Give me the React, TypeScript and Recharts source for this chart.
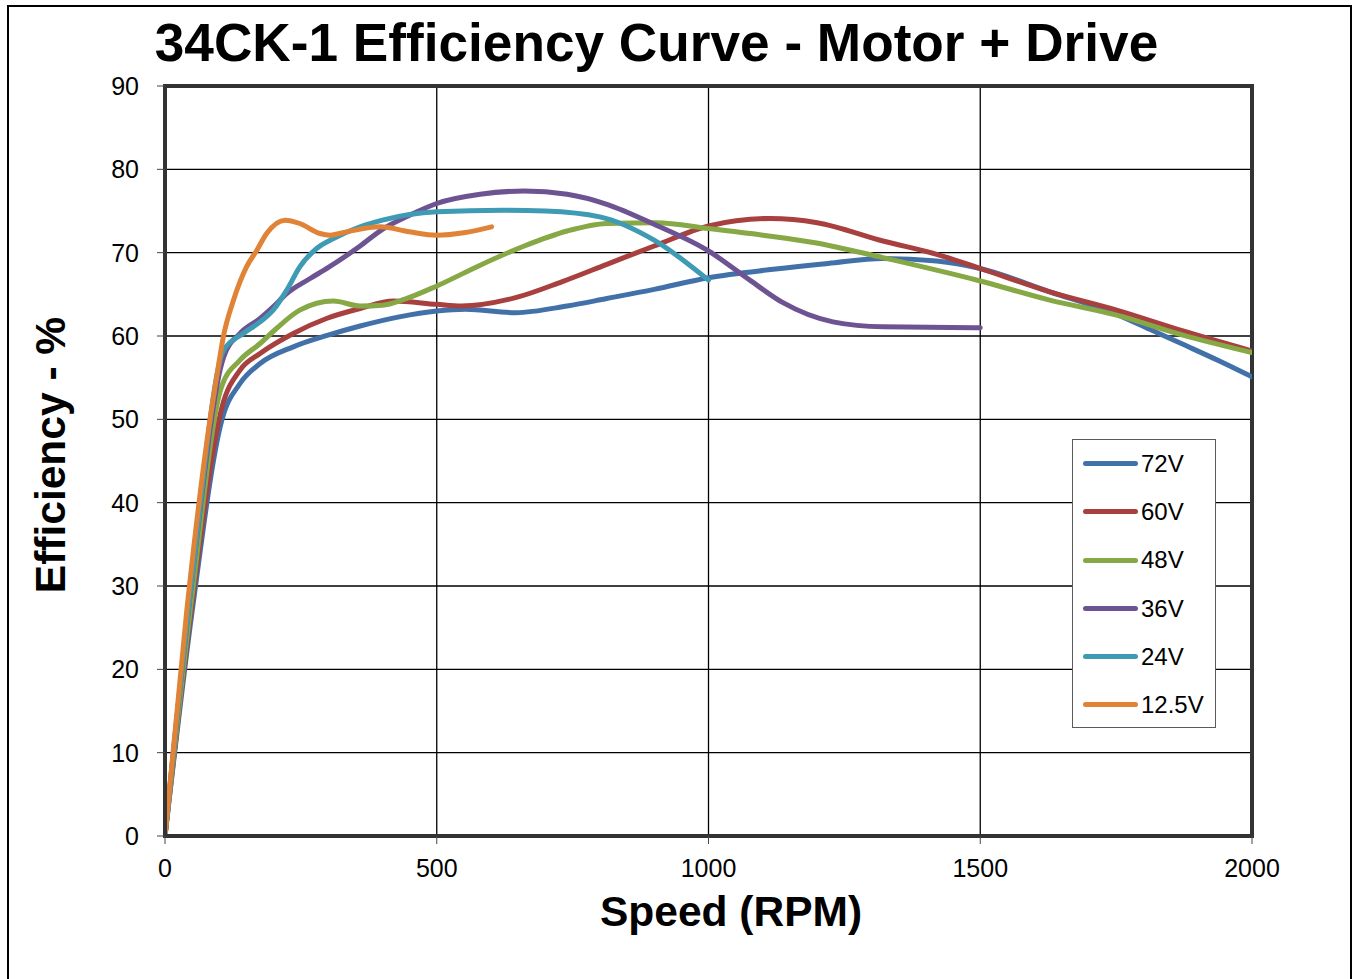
import React from 'react';
import { LineChart, Line, XAxis, YAxis, CartesianGrid, ReferenceArea } from 'recharts';

const FONT = '"Liberation Sans", Arial, Helvetica, sans-serif';

const xTicks = [0, 500, 1000, 1500, 2000];
const yTicks = [0, 10, 20, 30, 40, 50, 60, 70, 80, 90];

const s72V = [
  { rpm: 0, eff: 0 }, { rpm: 50, eff: 27 }, { rpm: 105, eff: 50 }, { rpm: 138, eff: 54.3 },
  { rpm: 175, eff: 56.7 }, { rpm: 236, eff: 58.7 }, { rpm: 300, eff: 60.1 }, { rpm: 359, eff: 61.2 },
  { rpm: 431, eff: 62.3 }, { rpm: 500, eff: 63.0 }, { rpm: 553, eff: 63.2 }, { rpm: 645, eff: 62.8 },
  { rpm: 740, eff: 63.6 }, { rpm: 813, eff: 64.5 }, { rpm: 900, eff: 65.6 }, { rpm: 1000, eff: 67.0 },
  { rpm: 1119, eff: 68.0 }, { rpm: 1220, eff: 68.7 }, { rpm: 1321, eff: 69.3 }, { rpm: 1420, eff: 69.0 },
  { rpm: 1500, eff: 68.1 }, { rpm: 1628, eff: 65.3 }, { rpm: 1751, eff: 62.6 }, { rpm: 1812, eff: 60.8 },
  { rpm: 1873, eff: 59.0 }, { rpm: 1940, eff: 57.0 }, { rpm: 2000, eff: 55.1 },
];

const s60V = [
  { rpm: 0, eff: 0 }, { rpm: 50, eff: 28 }, { rpm: 105, eff: 51.5 }, { rpm: 138, eff: 55.9 },
  { rpm: 175, eff: 57.9 }, { rpm: 236, eff: 60.3 }, { rpm: 297, eff: 62.1 }, { rpm: 359, eff: 63.3 },
  { rpm: 420, eff: 64.2 }, { rpm: 500, eff: 63.8 }, { rpm: 545, eff: 63.6 }, { rpm: 645, eff: 64.6 },
  { rpm: 730, eff: 66.5 }, { rpm: 813, eff: 68.6 }, { rpm: 900, eff: 70.8 }, { rpm: 1000, eff: 73.2 },
  { rpm: 1113, eff: 74.1 }, { rpm: 1200, eff: 73.6 }, { rpm: 1321, eff: 71.4 }, { rpm: 1420, eff: 69.8 },
  { rpm: 1500, eff: 68.1 }, { rpm: 1628, eff: 65.3 }, { rpm: 1751, eff: 63.1 }, { rpm: 1873, eff: 60.6 },
  { rpm: 2000, eff: 58.2 },
];

const s48V = [
  { rpm: 0, eff: 0 }, { rpm: 50, eff: 29 }, { rpm: 104, eff: 53.9 }, { rpm: 138, eff: 57.1 },
  { rpm: 175, eff: 59.1 }, { rpm: 205, eff: 60.9 }, { rpm: 248, eff: 63.1 }, { rpm: 310, eff: 64.2 },
  { rpm: 359, eff: 63.6 }, { rpm: 400, eff: 63.7 }, { rpm: 440, eff: 64.4 }, { rpm: 500, eff: 66.0 },
  { rpm: 580, eff: 68.5 }, { rpm: 661, eff: 70.8 }, { rpm: 740, eff: 72.6 }, { rpm: 813, eff: 73.5 },
  { rpm: 905, eff: 73.6 }, { rpm: 1000, eff: 72.9 }, { rpm: 1100, eff: 72.1 }, { rpm: 1196, eff: 71.2 },
  { rpm: 1321, eff: 69.4 }, { rpm: 1500, eff: 66.6 }, { rpm: 1628, eff: 64.3 }, { rpm: 1751, eff: 62.5 },
  { rpm: 1873, eff: 60.1 }, { rpm: 2000, eff: 58.0 },
];

const s36V = [
  { rpm: 0, eff: 0 }, { rpm: 50, eff: 31 }, { rpm: 108, eff: 57.5 }, { rpm: 138, eff: 60.3 },
  { rpm: 175, eff: 62.1 }, { rpm: 199, eff: 63.5 }, { rpm: 224, eff: 65.1 }, { rpm: 267, eff: 66.9 },
  { rpm: 300, eff: 68.2 }, { rpm: 359, eff: 70.8 }, { rpm: 400, eff: 72.8 }, { rpm: 450, eff: 74.5 },
  { rpm: 500, eff: 75.9 }, { rpm: 580, eff: 77.0 }, { rpm: 661, eff: 77.4 }, { rpm: 740, eff: 77.0 },
  { rpm: 813, eff: 75.8 }, { rpm: 900, eff: 73.4 }, { rpm: 1000, eff: 70.2 }, { rpm: 1076, eff: 66.7 },
  { rpm: 1137, eff: 64.0 }, { rpm: 1229, eff: 61.7 }, { rpm: 1321, eff: 61.1 }, { rpm: 1500, eff: 61.0 },
];

const s24V = [
  { rpm: 0, eff: 0 }, { rpm: 50, eff: 31 }, { rpm: 108, eff: 58.3 }, { rpm: 144, eff: 60.3 },
  { rpm: 175, eff: 61.7 }, { rpm: 199, eff: 63.1 }, { rpm: 224, eff: 65.5 }, { rpm: 248, eff: 68.3 },
  { rpm: 279, eff: 70.5 }, { rpm: 310, eff: 71.7 }, { rpm: 359, eff: 73.1 }, { rpm: 400, eff: 73.9 },
  { rpm: 500, eff: 74.9 }, { rpm: 622, eff: 75.1 }, { rpm: 700, eff: 75.0 }, { rpm: 800, eff: 74.3 },
  { rpm: 900, eff: 71.5 }, { rpm: 1000, eff: 66.7 },
];

const s125V = [
  { rpm: 0, eff: 0 }, { rpm: 40, eff: 27 }, { rpm: 80, eff: 48.7 }, { rpm: 98, eff: 56.3 },
  { rpm: 107, eff: 59.8 }, { rpm: 126, eff: 64.3 }, { rpm: 150, eff: 68.3 }, { rpm: 169, eff: 70.3 },
  { rpm: 187, eff: 72.3 }, { rpm: 221, eff: 73.9 }, { rpm: 248, eff: 73.5 }, { rpm: 285, eff: 72.3 },
  { rpm: 304, eff: 72.1 }, { rpm: 334, eff: 72.5 }, { rpm: 396, eff: 73.1 }, { rpm: 450, eff: 72.5 },
  { rpm: 500, eff: 72.1 }, { rpm: 550, eff: 72.4 }, { rpm: 601, eff: 73.1 },
];

const seriesNames = ['72V', '60V', '48V', '36V', '24V', '12.5V'];
const seriesColors = ['#4271AA', '#A8403F', '#86A845', '#6E5392', '#3F9AB3', '#E08336'];
const seriesData = [s72V, s60V, s48V, s36V, s24V, s125V];

export default function App() {
  return (
    <div
      style={{
        position: 'absolute',
        left: 0,
        top: 0,
        width: 1354,
        height: 979,
        overflow: 'hidden',
        background: '#fff',
        fontFamily: FONT,
      }}
    >
      <div
        style={{
          position: 'absolute',
          left: 7,
          top: 5,
          width: 1345,
          height: 1020,
          border: '2px solid #000',
          boxSizing: 'border-box',
        }}
      />
      <div style={{ position: 'absolute', left: 0, top: 0 }}>
        <LineChart width={1354} height={979} margin={{ top: 86, right: 102, left: 85, bottom: 83 }}>
          <CartesianGrid stroke="#000" strokeWidth={1.3} />
          <XAxis
            dataKey="rpm"
            type="number"
            domain={[0, 2000]}
            ticks={xTicks}
            interval={0}
            height={60}
            tickSize={8}
            tickMargin={15}
            tick={{ fill: '#000', fontSize: 25, fontFamily: FONT }}
            tickLine={{ stroke: '#444', strokeWidth: 1 }}
            axisLine={{ stroke: '#333', strokeWidth: 4 }}
            allowDataOverflow
          />
          <YAxis
            type="number"
            domain={[0, 90]}
            ticks={yTicks}
            interval={0}
            width={80}
            tickSize={8}
            tickMargin={18}
            tick={{ fill: '#000', fontSize: 25, fontFamily: FONT }}
            tickLine={{ stroke: '#444', strokeWidth: 1 }}
            axisLine={{ stroke: '#333', strokeWidth: 4 }}
            allowDataOverflow
          />
          <ReferenceArea x1={0} x2={2000} y1={0} y2={90} fill="none" fillOpacity={0} stroke="#333" strokeWidth={4} />
          {seriesData.map((d, i) => (
            <Line
              key={seriesNames[i]}
              data={d}
              dataKey="eff"
              name={seriesNames[i]}
              type="monotone"
              stroke={seriesColors[i]}
              strokeWidth={5}
              strokeLinecap="round"
              strokeLinejoin="round"
              dot={false}
              activeDot={false}
              isAnimationActive={false}
            />
          ))}
        </LineChart>
      </div>
      <div
        style={{
          position: 'absolute',
          left: 0,
          top: 16,
          width: 1313,
          textAlign: 'center',
          fontSize: 53.2,
          lineHeight: '53px',
          fontWeight: 'bold',
          whiteSpace: 'nowrap',
          color: '#000',
        }}
      >
        34CK-1 Efficiency Curve - Motor + Drive
      </div>
      <div
        style={{
          position: 'absolute',
          left: 431,
          top: 891,
          width: 600,
          textAlign: 'center',
          fontSize: 42.5,
          lineHeight: '42px',
          fontWeight: 'bold',
          whiteSpace: 'nowrap',
          color: '#000',
        }}
      >
        Speed (RPM)
      </div>
      <div
        style={{
          position: 'absolute',
          left: 51,
          top: 455,
          transform: 'translate(-50%, -50%) rotate(-90deg)',
          fontSize: 42.5,
          lineHeight: '42px',
          fontWeight: 'bold',
          whiteSpace: 'nowrap',
          color: '#000',
        }}
      >
        Efficiency - %
      </div>
      <div
        style={{
          position: 'absolute',
          left: 1072,
          top: 439,
          width: 144,
          height: 289,
          boxSizing: 'border-box',
          border: '1px solid #5a5a5a',
          background: '#fff',
        }}
      >
        {seriesNames.map((n, i) => {
          const cy = 23.5 + i * 48.25;
          return (
            <React.Fragment key={n}>
              <div
                style={{
                  position: 'absolute',
                  left: 10,
                  top: cy - 2.5,
                  width: 55,
                  height: 5,
                  borderRadius: 2.5,
                  background: seriesColors[i],
                }}
              />
              <div
                style={{
                  position: 'absolute',
                  left: 68,
                  top: cy - 11.7,
                  fontSize: 24,
                  lineHeight: '24px',
                  whiteSpace: 'nowrap',
                  color: '#000',
                }}
              >
                {n}
              </div>
            </React.Fragment>
          );
        })}
      </div>
    </div>
  );
}
